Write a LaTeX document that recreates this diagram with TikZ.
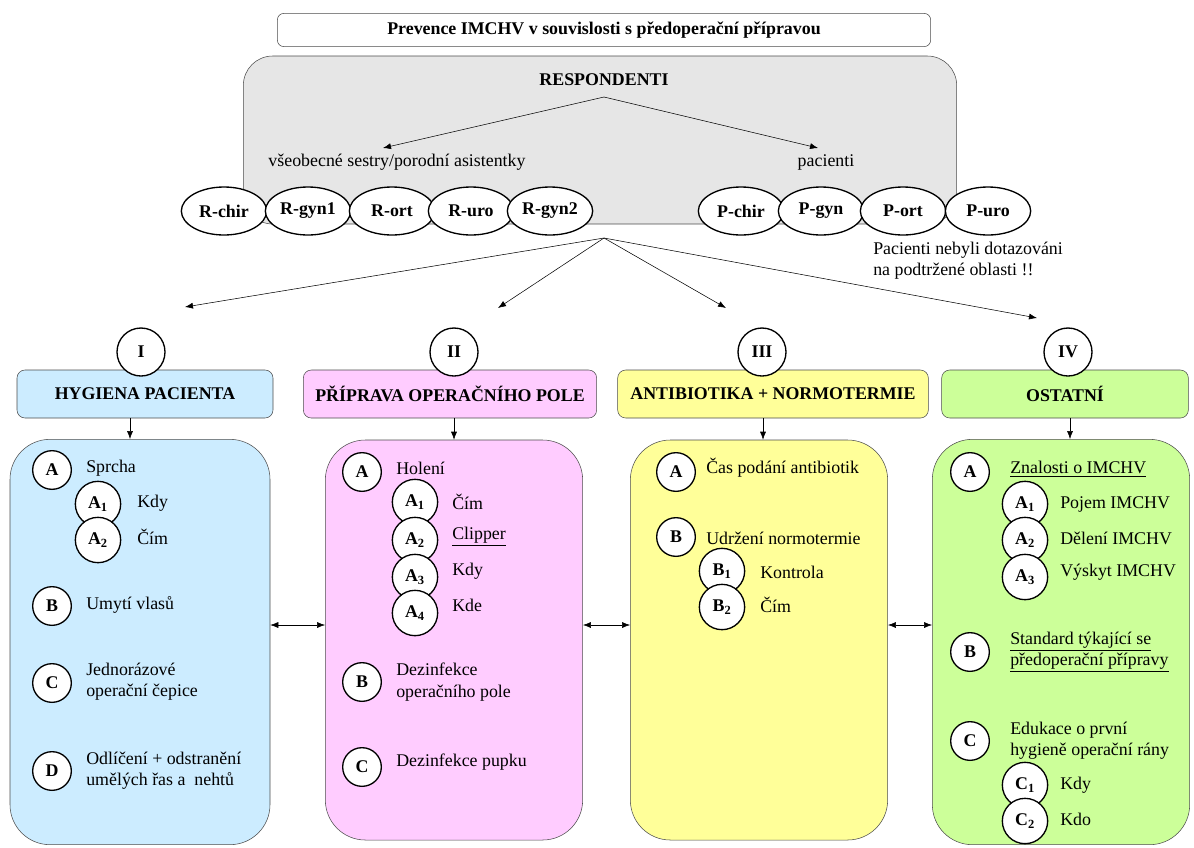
\documentclass[tikz,border=0pt]{standalone}
\usepackage{fontspec}
\setmainfont{Liberation Serif}
\usepackage{xcolor}
\usetikzlibrary{shapes.geometric,arrows.meta}

\definecolor{respgray}{HTML}{E6E6E6}
\definecolor{hygblue}{HTML}{CCECFF}
\definecolor{polepink}{HTML}{FFCCFF}
\definecolor{atbyellow}{HTML}{FFFF99}
\definecolor{ostgreen}{HTML}{CCFF99}

\newcommand{\lab}[2]{\textbf{#1\textsubscript{#2}}}

\tikzset{
  every node/.style={font=\fontsize{13.4}{16}\selectfont},
  resp/.style={ellipse, draw, line width=1pt, fill=white, minimum width=64pt, minimum height=36pt, inner sep=0pt, font=\fontsize{13.4}{16}\selectfont\bfseries},
  roman/.style={circle, draw, line width=1pt, fill=white, minimum size=36pt, inner sep=0pt, font=\fontsize{13.4}{16}\selectfont\bfseries},
  head/.style={draw=black!70, rounded corners=6pt, minimum height=36pt, font=\fontsize{13.4}{16}\selectfont\bfseries},
  body/.style={draw=black!70, rounded corners=30pt},
  letter/.style={circle, draw, line width=1pt, fill=white, minimum size=29pt, inner sep=0pt, font=\fontsize{13.4}{16}\selectfont\bfseries},
  subletter/.style={circle, draw, line width=1pt, fill=white, minimum size=34pt, inner sep=0pt},
  item/.style={anchor=west, align=left, inner sep=0pt},
}

\begin{document}
\begin{tikzpicture}[x=0.75pt, y=-0.75pt, >={Latex[length=6pt,width=4.5pt]}]
	\useasboundingbox (0,0) rectangle (1194,847);
	
	% Title
	\node[draw=black!70, rounded corners=5pt, minimum width=490pt, minimum height=25pt, font=\fontsize{13.4}{16}\selectfont\bfseries] (title) at (604,30) {Prevence IMCHV v souvislosti s předoperační přípravou};
	
	% Respondents
	\node[draw=black!70, fill=respgray, rounded corners=22pt, minimum width=535pt, minimum height=126pt] (respbox) at (600,140) {};
	\node[font=\fontsize{13.4}{16}\selectfont\bfseries] (resp) at (604,80) {RESPONDENTI};
	\node (sestry) at (397,162) {všeobecné sestry/porodní asistentky};
	\node (pacienti) at (826,162) {pacienti};
	\coordinate (rtop) at (604,97);
	\coordinate (sestryend) at (383,148);
	\coordinate (pacend) at (818,148);
	\draw[->] (rtop) -- (sestryend);
	\draw[->] (rtop) -- (pacend);
	
	\node[resp] (rchir) at (224,211) {R-chir};
	\node[resp] (rgyna) at (308,211) {R-gyn1};
	\node[resp] (rort) at (392,211) {R-ort};
	\node[resp] (ruro) at (471,211) {R-uro};
	\node[resp] (rgynb) at (550,211) {R-gyn2};
	
	\node[resp] (pchir) at (741,211) {P-chir};
	\node[resp] (pgyn) at (821,211) {P-gyn};
	\node[resp] (port) at (903,211) {P-ort};
	\node[resp] (puro) at (988,211) {P-uro};
	
	\node[item] (note) at (873,261) {Pacienti nebyli dotazováni\\na podtržené oblasti !!};
	
	% Arrows to the four areas
	\coordinate (hub) at (604,238);
	\coordinate (endI) at (185,307);
	\coordinate (endII) at (498,308);
	\coordinate (endIII) at (726,308);
	\coordinate (endIV) at (1037,318);
	\draw[->] (hub) -- (endI);
	\draw[->] (hub) -- (endII);
	\draw[->] (hub) -- (endIII);
	\draw[->] (hub) -- (endIV);
	
	% Headers
	\node[head, fill=hygblue, minimum width=192pt] (headI) at (145,394) {HYGIENA PACIENTA};
	\node[head, fill=polepink, minimum width=220pt] (headII) at (450,394) {PŘÍPRAVA OPERAČNÍHO POLE};
	\node[head, fill=atbyellow, minimum width=233pt] (headIII) at (773,394) {ANTIBIOTIKA + NORMOTERMIE};
	\node[head, fill=ostgreen, minimum width=185pt] (headIV) at (1065,394) {OSTATNÍ};
	
	\node[roman] (romI) at (141,352) {I};
	\node[roman] (romII) at (454,352) {II};
	\node[roman] (romIII) at (762,352) {III};
	\node[roman] (romIV) at (1068,352) {IV};
	
	% Bodies
	\node[body, fill=hygblue, minimum width=195pt, minimum height=304pt] (bodyI) at (140,642) {};
	\node[body, fill=polepink, minimum width=193pt, minimum height=300pt] (bodyII) at (454,640) {};
	\node[body, fill=atbyellow, minimum width=193pt, minimum height=300pt] (bodyIII) at (759,640) {};
	\node[body, fill=ostgreen, minimum width=193pt, minimum height=304pt] (bodyIV) at (1061,642) {};
	
	\draw[->] (headI.south -| 130,0) -- (bodyI.north -| 130,0);
	\draw[->] (headII.south -| 454,0) -- (bodyII.north -| 454,0);
	\draw[->] (headIII.south -| 763,0) -- (bodyIII.north -| 763,0);
	\draw[->] (headIV.south -| 1070,0) -- (bodyIV.north -| 1070,0);
	
	\coordinate (lnk) at (0,625);
	\draw[<->] (bodyI.east |- lnk) -- (bodyII.west |- lnk);
	\draw[<->] (bodyII.east |- lnk) -- (bodyIII.west |- lnk);
	\draw[<->] (bodyIII.east |- lnk) -- (bodyIV.west |- lnk);
	
	% I - hygiene
	\node[letter] (hA) at (52,470) {A};
	\node[item] (hAt) at (86,468) {Sprcha};
	\node[subletter] (hAa) at (98,504) {\lab{A}{1}};
	\node[item] (hAat) at (137,503) {Kdy};
	\node[subletter] (hAb) at (98,540) {\lab{A}{2}};
	\node[item] (hAbt) at (137,537) {Čím};
	\node[letter] (hB) at (52,606) {B};
	\node[item] (hBt) at (86,605) {Umytí vlasů};
	\node[letter] (hC) at (52,683) {C};
	\node[item] (hCt) at (86,682) {Jednorázové\\operační čepice};
	\node[letter] (hD) at (52,771) {D};
	\node[item] (hDt) at (86,771) {Odlíčení + odstranění\\umělých řas a\ \ nehtů};
	
	% II - operation field
	\node[letter] (pA) at (362,472) {A};
	\node[item] (pAt) at (396,468) {Holení};
	\node[subletter] (pAa) at (415,502) {\lab{A}{1}};
	\node[item] (pAat) at (452,502) {Čím};
	\node[subletter] (pAb) at (415,540) {\lab{A}{2}};
	\node[item] (pAbt) at (452,537) {\underline{Clipper}};
	\node[subletter] (pAc) at (415,577) {\lab{A}{3}};
	\node[item] (pAct) at (452,571) {Kdy};
	\node[subletter] (pAd) at (415,613) {\lab{A}{4}};
	\node[item] (pAdt) at (452,605) {Kde};
	\node[letter] (pB) at (362,682) {B};
	\node[item] (pBt) at (396,682) {Dezinfekce\\operačního pole};
	\node[letter] (pC) at (362,767) {C};
	\node[item] (pCt) at (396,762) {Dezinfekce pupku};
	
	% III - antibiotics
	\node[letter] (aA) at (676,472) {A};
	\node[item] (aAt) at (706,468) {Čas podání antibiotik};
	\node[letter] (aB) at (676,537) {B};
	\node[item] (aBt) at (706,538) {Udržení normotermie};
	\node[subletter] (aBa) at (722,571) {\lab{B}{1}};
	\node[item] (aBat) at (760,572) {Kontrola};
	\node[subletter] (aBb) at (722,607) {\lab{B}{2}};
	\node[item] (aBbt) at (760,605) {Čím};
	
	% IV - other
	\node[letter] (oA) at (970,472) {A};
	\node[item] (oAt) at (1010,469) {\underline{Znalosti o IMCHV}};
	\node[subletter] (oAa) at (1025,504) {\lab{A}{1}};
	\node[item] (oAat) at (1060,504) {Pojem IMCHV};
	\node[subletter] (oAb) at (1025,540) {\lab{A}{2}};
	\node[item] (oAbt) at (1060,538) {Dělení IMCHV};
	\node[subletter] (oAc) at (1025,577) {\lab{A}{3}};
	\node[item] (oAct) at (1060,572) {Výskyt IMCHV};
	\node[letter] (oB) at (970,652) {B};
	\node[item] (oBt) at (1010,652) {\underline{Standard týkající se}\\\underline{předoperační přípravy}};
	\node[letter] (oC) at (970,741) {C};
	\node[item] (oCt) at (1010,741) {Edukace o první\\hygieně operační rány};
	\node[subletter] (oCa) at (1025,785) {\lab{C}{1}};
	\node[item] (oCat) at (1060,785) {Kdy};
	\node[subletter] (oCb) at (1025,821) {\lab{C}{2}};
	\node[item] (oCbt) at (1060,819) {Kdo};
\end{tikzpicture}
\end{document}
